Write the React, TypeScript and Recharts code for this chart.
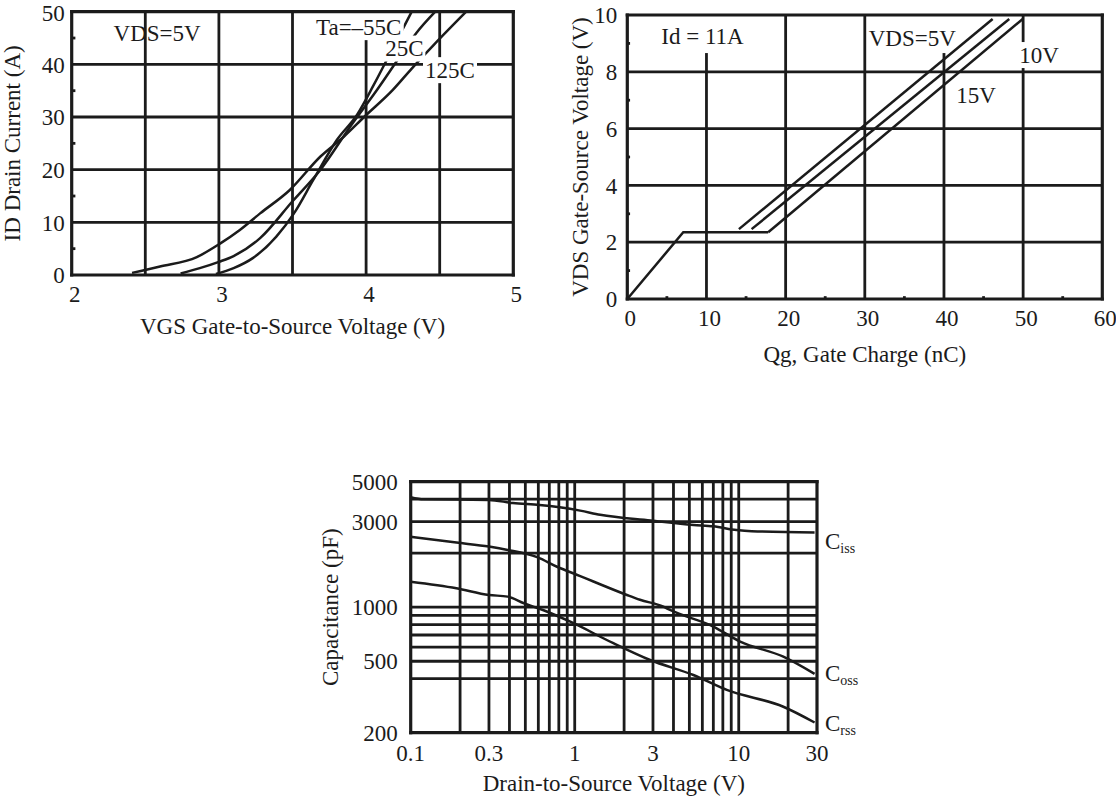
import React from 'react';
import { LineChart, Line, XAxis, YAxis, ReferenceLine, ReferenceDot } from 'recharts';

const INK = '#1b1b1b';
const SERIF = "'Liberation Serif', 'Times New Roman', 'DejaVu Serif', serif";
const FS = 23;

// ---- ID vs VGS (transfer characteristics)
const vgsTicks = [2, 3, 4, 5];
const idTicks = [0, 10, 20, 30, 40, 50];
const vgsGrid = [2.5, 3, 3.5, 4, 4.5];
const vgsGridTop = [50, 50, 50, 44.6, 50];
const idGrid = [10, 20, 30, 40];
const idMinorTicks = [5, 15, 25, 35, 45];
const idAtMinus55 = [
  { vgs: 2.98, id: 0.2 }, { vgs: 3.1, id: 1.3 }, { vgs: 3.23, id: 3.2 }, { vgs: 3.39, id: 7.3 },
  { vgs: 3.51, id: 11.7 }, { vgs: 3.64, id: 18 }, { vgs: 3.8, id: 25.6 }, { vgs: 3.94, id: 30.5 },
  { vgs: 4.05, id: 36 }, { vgs: 4.18, id: 43 }, { vgs: 4.31, id: 50 },
];
const idAt25 = [
  { vgs: 2.74, id: 0.3 }, { vgs: 2.87, id: 1.3 }, { vgs: 3.0, id: 2.5 }, { vgs: 3.1, id: 3.6 },
  { vgs: 3.28, id: 7 }, { vgs: 3.5, id: 14 }, { vgs: 3.69, id: 20 }, { vgs: 3.9, id: 28.5 },
  { vgs: 4.07, id: 35 }, { vgs: 4.23, id: 41.5 }, { vgs: 4.34, id: 45.9 }, { vgs: 4.47, id: 50 },
];
const idAt125 = [
  { vgs: 2.41, id: 0.4 }, { vgs: 2.6, id: 1.6 }, { vgs: 2.85, id: 3.4 }, { vgs: 3.01, id: 6 },
  { vgs: 3.14, id: 8.5 }, { vgs: 3.28, id: 11.7 }, { vgs: 3.48, id: 16.1 }, { vgs: 3.69, id: 22.5 },
  { vgs: 3.85, id: 26.3 }, { vgs: 3.99, id: 30.1 }, { vgs: 4.18, id: 35.1 }, { vgs: 4.31, id: 39.2 },
  { vgs: 4.46, id: 43.7 }, { vgs: 4.68, id: 50 },
];
const transferNotes = [
  { text: 'VDS=5V', x: 2.58, y: 46, box: false },
  { text: 'Ta=\u201355C', x: 3.95, y: 47.1, box: true },
  { text: '25C', x: 4.26, y: 43, box: true },
  { text: '125C', x: 4.57, y: 38.9, box: true },
];

// ---- VGS vs Qg (gate charge)
const qgTicks = [0, 10, 20, 30, 40, 50, 60];
const vgTicks = [0, 2, 4, 6, 8, 10];
const qgGrid = [10, 20, 30, 40, 50];
const qgGridTop = [8.66, 10, 10, 8.66, 10];
const vgGrid = [2, 4, 6, 8];
const vgMinorTicks = [1, 3, 5, 7, 9];
const qgMinorTicks = [5, 15, 25, 35, 45, 55];
const plateau = [{ q: 0, v: 0 }, { q: 7.07, v: 2.35 }, { q: 17.8, v: 2.35 }];
const vds5 = [{ q: 14.1, v: 2.46 }, { q: 46.15, v: 9.86 }];
const vds10 = [{ q: 15.7, v: 2.46 }, { q: 48.25, v: 9.86 }];
const vds15 = [{ q: 17.8, v: 2.35 }, { q: 49.95, v: 9.86 }];
const chargeNotes = [
  { text: 'Id = 11A', x: 9.5, y: 9.27, box: false },
  { text: 'VDS=5V', x: 36.0, y: 9.18, box: false },
  { text: '10V', x: 52.0, y: 8.59, box: true },
  { text: '15V', x: 44.05, y: 7.18, box: false },
];

// ---- Capacitance vs VDS (log-log)
const vdsTicks = [0.1, 0.3, 1, 3, 10, 30];
const capTicks = [200, 500, 1000, 3000, 5000];
const vdsGrid = [0.2, 0.3, 0.4, 0.5, 0.6, 0.7, 0.8, 0.9, 1, 2, 3, 4, 5, 6, 7, 8, 9, 10, 20];
const capGrid = [400, 500, 600, 700, 800, 900, 1000, 2000, 3000, 4000];
const ciss = [
  { vds: 0.1, c: 4100 }, { vds: 0.12, c: 3990 }, { vds: 0.3, c: 3960 }, { vds: 0.42, c: 3800 },
  { vds: 0.61, c: 3710 }, { vds: 0.81, c: 3600 }, { vds: 1.08, c: 3450 }, { vds: 1.43, c: 3270 },
  { vds: 2.9, c: 3040 }, { vds: 5.3, c: 2870 }, { vds: 7, c: 2820 }, { vds: 9.7, c: 2690 },
  { vds: 12, c: 2650 }, { vds: 29, c: 2610 },
];
const coss = [
  { vds: 0.1, c: 2470 }, { vds: 0.19, c: 2290 }, { vds: 0.3, c: 2175 }, { vds: 0.39, c: 2085 },
  { vds: 0.59, c: 1900 }, { vds: 0.78, c: 1680 }, { vds: 1.08, c: 1490 }, { vds: 1.3, c: 1390 },
  { vds: 2.08, c: 1170 }, { vds: 2.5, c: 1100 }, { vds: 3.47, c: 1007 }, { vds: 3.81, c: 965 },
  { vds: 7, c: 780 }, { vds: 10.2, c: 643 }, { vds: 18.7, c: 530 }, { vds: 29, c: 425 },
];
const crss = [
  { vds: 0.1, c: 1387 }, { vds: 0.19, c: 1275 }, { vds: 0.3, c: 1170 }, { vds: 0.39, c: 1145 },
  { vds: 0.49, c: 1052 }, { vds: 0.64, c: 965 }, { vds: 0.94, c: 830 }, { vds: 1.72, c: 630 },
  { vds: 2.88, c: 508 }, { vds: 5.29, c: 419 }, { vds: 8.45, c: 346 }, { vds: 18.7, c: 279 },
  { vds: 29, c: 228 },
];
const capNotes = [
  { name: 'C', sub: 'iss', y: 2339 },
  { name: 'C', sub: 'oss', y: 430 },
  { name: 'C', sub: 'rss', y: 226 },
];

const tickStyle = { fill: INK, fontSize: FS, fontFamily: SERIF };

const xTitle = (text: string, drop: number) => (props: any) => {
  const vb = props.viewBox;
  return (
    <text x={vb.x + vb.width / 2} y={vb.y + drop} textAnchor="middle" fill={INK} fontFamily={SERIF} fontSize={FS}>
      {text}
    </text>
  );
};

const yTitle = (text: string, base: number) => (props: any) => {
  const vb = props.viewBox;
  const x = vb.x + base;
  const y = vb.y + vb.height / 2;
  return (
    <text x={x} y={y} transform={`rotate(-90 ${x} ${y})`} textAnchor="middle" fill={INK} fontFamily={SERIF} fontSize={FS}>
      {text}
    </text>
  );
};

// annotation text, optionally on a white patch that breaks lines under it
const note = (text: string, box: boolean) => (p: any) => {
  const { cx, cy } = p;
  const w = text.length * 12 + 6;
  return (
    <g>
      {box && <rect x={cx - w / 2} y={cy - 13} width={w} height={26} fill="#fff" />}
      <text x={cx} y={cy} dy="0.34em" textAnchor="middle" fill={INK} fontFamily={SERIF} fontSize={FS}>
        {text}
      </text>
    </g>
  );
};

const capName = (name: string, sub: string) => (p: any) => (
  <text x={p.cx + 8} y={p.cy} dy="0.34em" fill={INK} fontFamily={SERIF} fontSize={FS}>
    {name}
    <tspan fontSize={14} dy={4}>{sub}</tspan>
  </text>
);

const gridLine = { stroke: INK, strokeWidth: 2.8 };
const frame = { stroke: INK, strokeWidth: 3.2, strokeLinecap: 'square' as const };
const curve = { stroke: INK, strokeWidth: 2.5, dot: false, isAnimationActive: false, activeDot: false };

function TransferChart() {
  return (
    <LineChart width={540} height={345} margin={{ top: 11.7, right: 26.7, left: 0, bottom: 0 }}>
      <XAxis type="number" dataKey="vgs" domain={[2, 5]} ticks={vgsTicks} height={70}
        axisLine={false} tickLine={false} tickSize={0} tickMargin={11} tick={{ ...tickStyle, dx: 3 }}
        label={xTitle('VGS Gate-to-Source Voltage (V)', 59)} />
      <YAxis type="number" dataKey="id" domain={[0, 50]} ticks={idTicks} width={71.7}
        axisLine={false} tickLine={false} tickSize={0} tickMargin={7} tick={tickStyle}
        label={yTitle('ID Drain Current (A)', 20)} />
      {vgsGrid.map((g, i) => (
        <ReferenceLine key={'gx' + g} segment={[{ x: g, y: 0 }, { x: g, y: vgsGridTop[i] }]} {...gridLine} />
      ))}
      {idGrid.map((g) => <ReferenceLine key={'gy' + g} y={g} {...gridLine} />)}
      {idMinorTicks.map((m) => (
        <ReferenceLine key={'mt' + m} segment={[{ x: 2, y: m }, { x: 2.025, y: m }]} {...gridLine} />
      ))}
      <ReferenceLine x={2} {...frame} />
      <ReferenceLine x={5} {...frame} />
      <ReferenceLine y={0} {...frame} />
      <ReferenceLine y={50} {...frame} />
      <Line type="monotone" data={idAtMinus55} dataKey="id" name="Ta=-55C" {...curve} />
      <Line type="monotone" data={idAt25} dataKey="id" name="25C" {...curve} />
      <Line type="monotone" data={idAt125} dataKey="id" name="125C" {...curve} />
      {transferNotes.map((n) => (
        <ReferenceDot key={n.text} x={n.x} y={n.y} r={0} shape={note(n.text, n.box)} />
      ))}
    </LineChart>
  );
}

function GateChargeChart() {
  return (
    <LineChart width={556} height={380} margin={{ top: 15, right: 13.7, left: 0, bottom: 0 }}>
      <XAxis type="number" dataKey="q" domain={[0, 60]} ticks={qgTicks} height={81}
        axisLine={false} tickLine={false} tickSize={0} tickMargin={11} tick={{ ...tickStyle, dx: 3 }}
        label={xTitle('Qg, Gate Charge (nC)', 63)} />
      <YAxis type="number" dataKey="v" domain={[0, 10]} ticks={vgTicks} width={67.3}
        axisLine={false} tickLine={false} tickSize={0} tickMargin={10} tick={tickStyle}
        label={yTitle('VDS Gate-Source Voltage (V)', 28)} />
      {qgGrid.map((g, i) => (
        <ReferenceLine key={'gx' + g} segment={[{ x: g, y: 0 }, { x: g, y: qgGridTop[i] }]} {...gridLine} />
      ))}
      {vgGrid.map((g) => <ReferenceLine key={'gy' + g} y={g} {...gridLine} />)}
      {vgMinorTicks.map((m) => (
        <ReferenceLine key={'my' + m} segment={[{ x: 0, y: m }, { x: 0.35, y: m }]} {...gridLine} />
      ))}
      {qgMinorTicks.map((m) => (
        <ReferenceLine key={'mx' + m} segment={[{ x: m, y: 0 }, { x: m, y: 0.1 }]} {...gridLine} />
      ))}
      <ReferenceLine x={0} {...frame} />
      <ReferenceLine x={60} {...frame} />
      <ReferenceLine y={0} {...frame} />
      <ReferenceLine y={10} {...frame} />
      <Line type="linear" data={plateau} dataKey="v" name="plateau" {...curve} />
      <Line type="linear" data={vds5} dataKey="v" name="VDS=5V" {...curve} />
      <Line type="linear" data={vds10} dataKey="v" name="10V" {...curve} />
      <Line type="linear" data={vds15} dataKey="v" name="15V" {...curve} />
      {chargeNotes.map((n) => (
        <ReferenceDot key={n.text} x={n.x} y={n.y} r={0} shape={note(n.text, n.box)} />
      ))}
    </LineChart>
  );
}

function CapacitanceChart() {
  return (
    <LineChart width={560} height={340} margin={{ top: 21.7, right: 43, left: 0, bottom: 0 }}>
      <XAxis type="number" dataKey="vds" scale="log" domain={[0.1, 30]} ticks={vdsTicks} height={67.3}
        axisLine={false} tickLine={false} tickSize={0} tickMargin={12} tick={tickStyle}
        allowDataOverflow label={xTitle('Drain-to-Source Voltage (V)', 58)} />
      <YAxis type="number" dataKey="c" scale="log" domain={[200, 5000]} ticks={capTicks} width={110.7}
        axisLine={false} tickLine={false} tickSize={0} tickMargin={13} tick={tickStyle}
        allowDataOverflow label={yTitle('Capacitance (pF)', 38)} />
      {vdsGrid.map((g) => <ReferenceLine key={'gx' + g} x={g} {...gridLine} />)}
      {capGrid.map((g) => <ReferenceLine key={'gy' + g} y={g} {...gridLine} />)}
      <ReferenceLine x={0.1} {...frame} />
      <ReferenceLine x={30} {...frame} />
      <ReferenceLine y={200} {...frame} />
      <ReferenceLine y={5000} {...frame} />
      <Line type="monotone" data={ciss} dataKey="c" name="Ciss" {...curve} />
      <Line type="monotone" data={coss} dataKey="c" name="Coss" {...curve} />
      <Line type="monotone" data={crss} dataKey="c" name="Crss" {...curve} />
      {capNotes.map((n) => (
        <ReferenceDot key={n.sub} x={30} y={n.y} r={0} ifOverflow="visible" shape={capName(n.name, n.sub)} />
      ))}
    </LineChart>
  );
}

export default function App() {
  return (
    <div style={{ position: 'absolute', left: 0, top: 0, width: 1116, height: 800, background: '#fff' }}>
      <div style={{ position: 'absolute', left: 0, top: 0 }}>
        <TransferChart />
      </div>
      <div style={{ position: 'absolute', left: 560, top: 0 }}>
        <GateChargeChart />
      </div>
      <div style={{ position: 'absolute', left: 300, top: 460 }}>
        <CapacitanceChart />
      </div>
    </div>
  );
}
